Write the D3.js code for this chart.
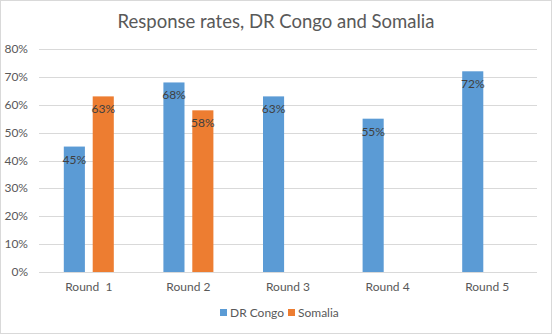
<!DOCTYPE html>
<html>
<head>
<meta charset="utf-8">
<script src="https://cdn.jsdelivr.net/npm/d3@7"></script>
<style>
  body { margin: 0; background: #fff; }
  text { font-family: Lato, "Noto Sans", sans-serif; }
</style>
</head>
<body>
<div id="chart"></div>
<script>
const categories = ["Round  1", "Round 2", "Round 3", "Round 4", "Round 5"];
const seriesNames = ["DR Congo", "Somalia"];
const drCongo = [45, 68, 63, 55, 72];
const somalia = [63, 58, null, null, null];
const yTicks = [0, 10, 20, 30, 40, 50, 60, 70, 80];
const colors = ["#5b9bd5", "#ed7d31"];

const W = 552, H = 334;
const margin = {top: 49, right: 15, bottom: 62, left: 39};
const width = W - margin.left - margin.right,
    height = H - margin.top - margin.bottom;

const svg = d3.select("#chart")
    .append("svg")
    .attr("width", W)
    .attr("height", H);

// outer chart border
svg.append("rect")
    .attr("x", 0.5).attr("y", 0.5)
    .attr("width", W - 1).attr("height", H - 1)
    .style("fill", "white")
    .style("stroke", "#d9d9d9");

const g = svg.append("g")
    .attr("transform", `translate(${margin.left}, ${margin.top})`);

const x0 = d3.scaleBand().domain(categories).range([0, width]);
const x1 = d3.scaleBand().domain(seriesNames)
    .range([x0.bandwidth() / 2 - 25, x0.bandwidth() / 2 + 25])
    .paddingInner(0.27);
const y = d3.scaleLinear().domain([0, 80]).range([height, 0]);

// gridlines
g.selectAll("line.grid")
    .data(yTicks)
    .join("line")
    .attr("class", "grid")
    .attr("x1", 0).attr("x2", width)
    .attr("y1", d => Math.round(y(d)) + 0.5)
    .attr("y2", d => Math.round(y(d)) + 0.5)
    .style("stroke", "#d9d9d9")
    .style("stroke-width", 1);

// y tick labels
g.selectAll("text.ytick")
    .data(yTicks)
    .join("text")
    .attr("class", "ytick")
    .attr("x", -11)
    .attr("y", d => y(d) + 4)
    .attr("text-anchor", "end")
    .attr("font-size", "12px")
    .attr("fill", "#595959")
    .text(d => d + "%");

const rows = [];
categories.forEach((c, i) => {
    [drCongo, somalia].forEach((s, j) => {
        if (s[i] != null) rows.push({cat: c, series: seriesNames[j], value: s[i], color: colors[j]});
    });
});

g.selectAll("rect.bar")
    .data(rows)
    .join("rect")
    .attr("class", "bar")
    .attr("x", d => x0(d.cat) + x1(d.series))
    .attr("y", d => y(d.value))
    .attr("width", x1.bandwidth())
    .attr("height", d => height - y(d.value))
    .style("fill", d => d.color);

g.selectAll("text.val")
    .data(rows)
    .join("text")
    .attr("class", "val")
    .attr("x", d => x0(d.cat) + x1(d.series) + x1.bandwidth() / 2)
    .attr("y", d => y(d.value) + 17)
    .attr("text-anchor", "middle")
    .attr("font-size", "12px")
    .attr("fill", "#404040")
    .text(d => d.value + "%");

// category labels
g.selectAll("text.cat")
    .data(categories)
    .join("text")
    .attr("class", "cat")
    .attr("x", d => x0(d) + x0.bandwidth() / 2)
    .attr("y", height + 19)
    .attr("text-anchor", "middle")
    .attr("font-size", "12px")
    .attr("fill", "#595959")
    .style("white-space", "pre")
    .text(d => d);

// title
svg.append("text")
    .attr("x", W / 2)
    .attr("y", 28)
    .attr("text-anchor", "middle")
    .attr("font-size", "18.5px")
    .attr("fill", "#595959")
    .text("Response rates, DR Congo and Somalia");

// legend
const legend = svg.append("g").attr("transform", "translate(220, 313)");
const legX = [0, 68];
seriesNames.forEach((s, i) => {
    legend.append("rect")
        .attr("x", legX[i]).attr("y", -4)
        .attr("width", 7).attr("height", 7)
        .style("fill", colors[i]);
    legend.append("text")
        .attr("x", legX[i] + 10).attr("y", 4)
        .attr("font-size", "12px")
        .attr("fill", "#595959")
        .text(s);
});
</script>
</body>
</html>
